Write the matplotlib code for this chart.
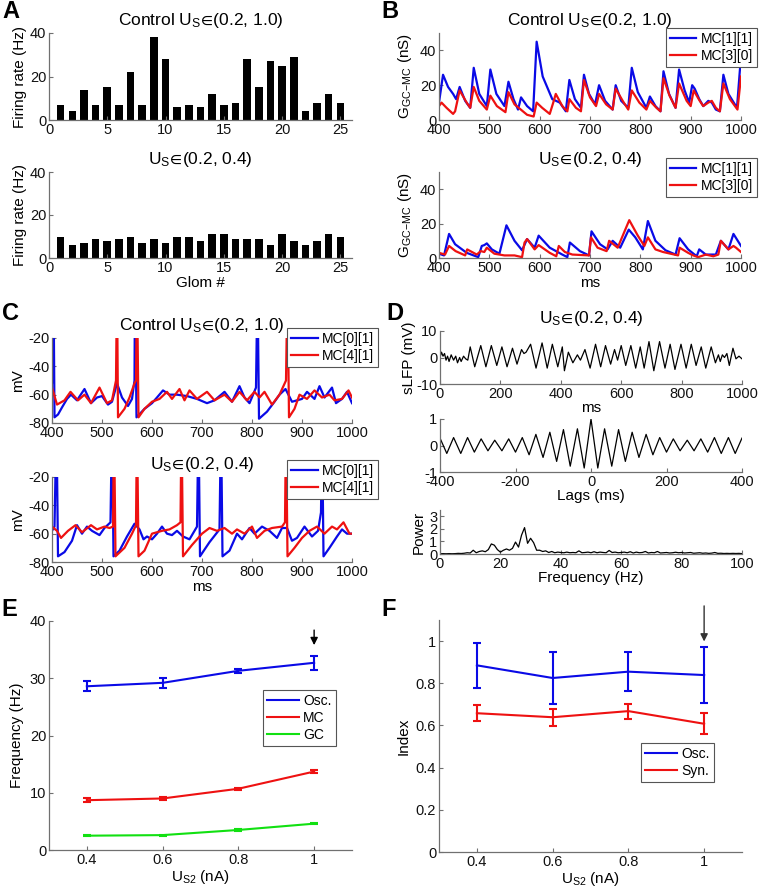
import matplotlib
matplotlib.use("Agg")
import matplotlib.pyplot as plt
import numpy as np

plt.rcParams['font.family'] = ['Liberation Sans', 'DejaVu Sans']
plt.rcParams['mathtext.fontset'] = 'custom'
plt.rcParams['mathtext.rm'] = 'Liberation Sans'
plt.rcParams['mathtext.it'] = 'Liberation Sans:italic'
plt.rcParams['mathtext.bf'] = 'Liberation Sans:bold'
plt.rcParams['mathtext.fallback'] = 'stixsans'
plt.rcParams['axes.unicode_minus'] = False

W, H = 759, 889
BLUE, RED, GREEN = "#0a0ae6", "#ee1111", "#11e011"
AX_COL = "#707070"

# ---------------------------------------------------------------- data
glom = np.arange(1, 26)
rate_ctrl = [7, 4, 14, 7, 15, 7, 22, 7, 38, 28, 6, 7, 6, 12, 7, 8, 28, 15, 27, 25, 29, 4, 8, 12, 8]
rate_low = [10, 6, 7, 9, 8, 9, 10, 7, 9, 7, 10, 10, 8, 11, 11, 9, 9, 9, 6, 11, 8, 6, 8, 11, 10]

# B: GC->MC conductance, control
gb1_t = [400, 408, 418, 428, 434, 441, 452, 462, 469, 480, 495, 502, 514, 530, 538, 548, 557, 563, 575, 587,
         594, 606, 625, 640, 652, 659, 670, 682, 688, 698, 710, 718, 730, 745, 751, 762, 776, 783, 795, 812,
         819, 830, 840, 846, 857, 870, 877, 888, 897, 903, 908, 917, 925, 935, 942, 950, 958, 965, 975, 992, 1000]
gb1_v = [10, 26, 19, 15, 12, 19, 11, 7, 30, 15, 8, 29, 15, 8, 22, 12, 6, 13, 8, 5,
         45, 25, 12, 10, 5, 23, 12, 7, 26, 15, 9, 20, 11, 6, 20, 11, 7, 30, 16, 7,
         13.5, 8, 5, 28, 15, 7, 29, 17, 10, 20, 18, 12, 8, 11, 10, 6, 5, 26, 15, 7, 37]
gr1_t = [400, 405, 415, 428, 432, 441, 455, 462, 469, 480, 495, 502, 515, 532, 538, 550, 575, 588, 594, 605,
         620, 627, 632, 645, 655, 659, 672, 682, 688, 700, 712, 718, 732, 745, 751, 765, 776, 783, 798, 812,
         819, 832, 840, 846, 858, 870, 877, 892, 900, 906, 918, 925, 935, 942, 950, 958, 965, 978, 993, 1000]
gr1_v = [8, 10, 7, 3.5, 5, 17, 10, 7, 19, 11, 6, 14, 8, 4.5, 16, 9, 3, 2, 10, 7,
         3.5, 10, 15, 8, 5, 12, 7, 5, 23, 13, 8, 15, 9, 6, 18, 11, 6, 17, 10, 6,
         11, 7, 5, 24, 14, 7, 21, 11, 8, 17, 11, 8, 10, 11, 7, 5, 21, 12, 6, 25]
# B: low U_S
gb2_t = [400, 410, 420, 432, 455, 478, 485, 490, 495, 505, 520, 534, 550, 565, 575, 590, 598, 620, 645, 655,
         660, 680, 698, 703, 720, 735, 745, 760, 777, 790, 805, 815, 830, 850, 870, 878, 895, 912, 917, 930,
         950, 960, 975, 985, 1000]
gb2_v = [2.5, 1.5, 14, 8, 3, 0.5, 7, 7.5, 8.5, 5, 2.5, 19, 10, 4.5, 11, 6, 13, 6, 2, 0.5,
         9, 4, 1.5, 15.5, 8, 5, 10, 6, 16.5, 12, 5, 21.5, 10, 4.5, 2, 11.5, 5, 1, 5, 2,
         2, 10, 5, 14, 7]
gr2_t = [400, 412, 420, 433, 452, 456, 475, 483, 490, 495, 510, 530, 550, 565, 570, 575, 590, 598, 620, 633,
         638, 650, 665, 698, 702, 715, 733, 738, 755, 778, 795, 808, 815, 830, 845, 875, 878, 895, 905, 915,
         930, 945, 955, 960, 975, 985, 990, 1000]
gr2_v = [3, 2, 7, 4, 1.5, 5, 2, 4, 3.5, 6, 2.5, 1.5, 1.5, 0.5, 9, 11, 5, 7.5, 3, 1,
         7, 3.5, 2, 1.5, 12, 6, 4, 10, 6, 22, 13, 7, 12, 5, 3.5, 1.5, 6, 3, 1.5, 0.5,
         2, 1, 2, 10, 5, 7, 6, 3.5]

# C: membrane potentials, control
vb1_t = [400, 402, 403, 405, 412, 420, 430, 438, 450, 465, 478, 490, 500, 512, 520, 530, 540, 552, 560, 565,
         566, 569, 585, 600, 610, 622, 635, 650, 670, 690, 710, 725, 745, 760, 775, 785, 795, 808, 811, 814,
         830, 845, 855, 867, 880, 900, 910, 925, 935, 945, 960, 968, 980, 990, 1000]
vb1_v = [-52, -45, 20, -76, -74, -69, -63, -60, -64, -56, -66, -62, -61, -67, -65, -52, -62, -68, -63, -50,
         20, -76, -70, -66, -62, -57, -60, -60, -61, -63, -66, -64, -58, -65, -54, -62, -66, -55, 20, -77,
         -72, -65, -60, -56, -65, -63, -58, -63, -54, -62, -55, -66, -63, -58, -66]
vr1_t = [400, 410, 425, 437, 452, 465, 478, 495, 510, 520, 528, 530, 532, 545, 555, 565, 568, 570, 573, 585,
         600, 615, 630, 640, 655, 665, 675, 690, 710, 725, 745, 760, 775, 790, 805, 815, 825, 840, 855, 868,
         871, 874, 885, 895, 910, 925, 940, 955, 965, 980, 993, 1000]
vr1_v = [-55, -67, -64, -58, -64, -60, -66, -55, -66, -64, -50, 20, -76, -70, -62, -52, -50, 20, -76, -70,
         -65, -63, -58, -63, -56, -64, -57, -63, -58, -64, -60, -65, -58, -64, -58, -62, -58, -67, -60, -50,
         20, -76, -70, -60, -63, -57, -62, -60, -64, -63, -57, -62]
# C: low U_S
vb2_t = [400, 405, 409, 412, 425, 440, 450, 460, 470, 480, 495, 505, 517, 520, 523, 535, 550, 565, 575, 583,
         590, 600, 610, 620, 630, 640, 650, 662, 675, 690, 693, 696, 715, 735, 738, 741, 755, 770, 780, 795,
         805, 820, 835, 850, 860, 870, 880, 890, 905, 920, 932, 938, 940, 943, 955, 970, 980, 990, 1000]
vb2_v = [-58, -55, 20, -76, -73, -65, -54, -60, -55, -58, -61, -56, -52, 20, -76, -72, -62, -53, -57, -64,
         -62, -64, -60, -55, -60, -61, -58, -62, -64, -55, 20, -76, -66, -57, 20, -76, -72, -60, -64, -56,
         -60, -55, -58, -63, -56, -56, -65, -63, -55, -62, -58, -45, 20, -76, -70, -62, -57, -60, -60]
vr2_t = [400, 410, 418, 432, 447, 460, 478, 490, 505, 515, 522, 524, 527, 545, 560, 568, 570, 573, 585, 600,
         620, 635, 650, 657, 659, 662, 680, 700, 715, 730, 745, 760, 770, 785, 800, 810, 825, 840, 860, 866,
         868, 871, 885, 900, 915, 930, 945, 960, 970, 983, 995, 1000]
vr2_v = [-55, -58, -63, -58, -54, -59, -54, -57, -55, -56, -55, 20, -76, -70, -60, -54, 20, -76, -72, -60,
         -58, -57, -54, -52, 20, -76, -68, -60, -56, -58, -56, -60, -57, -60, -55, -63, -58, -56, -55, -52,
         20, -76, -70, -63, -58, -55, -60, -55, -57, -52, -60, -60]

# D: sLFP, autocorrelation, power
lfp_t = [0, 5, 10, 15, 20, 25, 30, 37, 45, 52, 58, 65, 70, 78, 85, 92, 100, 115, 135, 152,
         170, 188, 205, 222, 240, 255, 270, 278, 285, 300, 318, 338, 355, 372, 390, 405, 412, 425, 440, 455,
         465, 480, 497, 515, 532, 548, 565, 578, 588, 600, 615, 632, 648, 663, 676, 692, 708, 727, 745, 762,
         778, 798, 815, 832, 848, 865, 880, 898, 912, 922, 928, 935, 942, 950, 958, 970, 980, 990, 1000]
lfp_v = [0, 2, 0.5, 1.5, -1, 0.5, -1.5, 1, -1, 0.5, -2, 0, -1.5, 0.5, -0.5, -1, 4, -3.5, 4.5, -3.5,
         4.5, -3, 4, -3.5, 3.5, -2.5, 3, 1.5, 2, 5, -4, 5.5, -4, 5, -3.5, 4, -5, 2, -2, 1,
         -1, 3, -4, 5, -3.5, 4.5, -2.5, 3, -1, 4.5, -3, 4.5, -4, 4, -4, 6, -5, 6, -4, 5,
         -4.5, 5, -4, 5, -3, 4, -4, 4, -2, 1, -1.5, 1, 0, 1.5, -3, 3.5, -0.5, 0.5, -0.5]
lags = [-400, -382, -364, -345, -327, -309, -291, -273, -255, -236, -218, -200, -182, -164, -146, -127,
        -109, -91, -73, -55, -36, -18, 0, 18, 36, 55, 73, 91, 109, 127, 146, 164, 182, 200, 218, 236,
        255, 273, 291, 309, 327, 345, 364, 382, 400]
acorr = [0.28, -0.3, 0.3, -0.3, 0.3, -0.25, 0.25, -0.2, 0.2, -0.2, 0.25, -0.25, 0.3, -0.35, 0.42, -0.45,
         0.5, -0.6, 0.6, -0.78, 0.63, -0.85, 1.0, -0.85, 0.63, -0.78, 0.6, -0.6, 0.5, -0.45, 0.42, -0.35,
         0.3, -0.25, 0.25, -0.2, 0.2, -0.2, 0.25, -0.25, 0.3, -0.3, 0.3, -0.3, 0.28]
freq = np.arange(0, 101)
power = [0.02, 0.03, 0.02, 0.03, 0.02, 0.03, 0.05, 0.04, 0.06, 0.1, 0.08, 0.3, 0.1, 0.2, 0.25, 0.18, 0.35,
         0.8, 0.7, 0.35, 0.15, 0.3, 0.4, 0.3, 0.45, 0.95, 0.55, 1.5, 2.1, 0.85, 1.25, 0.9, 0.3, 0.3, 0.2,
         0.25, 0.12, 0.2, 0.1, 0.15, 0.12, 0.1, 0.15, 0.1, 0.12, 0.1, 0.25, 0.1, 0.12, 0.15, 0.1, 0.18, 0.1,
         0.15, 0.12, 0.1, 0.28, 0.12, 0.15, 0.1, 0.12, 0.15, 0.1, 0.18, 0.08, 0.15, 0.1, 0.12, 0.2, 0.08,
         0.12, 0.1, 0.2, 0.08, 0.1, 0.12, 0.08, 0.1, 0.14, 0.1, 0.12, 0.08, 0.1, 0.12, 0.06, 0.08, 0.1,
         0.06, 0.08, 0.05, 0.07, 0.12, 0.05, 0.06, 0.04, 0.05, 0.04, 0.05, 0.04, 0.05, 0.03]

# E / F: summary vs U_S2
us2 = [0.4, 0.6, 0.8, 1.0]
osc_f = [28.6, 29.2, 31.3, 32.7]
osc_f_err = [0.9, 0.85, 0.35, 1.2]
mc_f = [8.7, 9.0, 10.7, 13.7]
mc_f_err = [0.3, 0.25, 0.2, 0.25]
gc_f = [2.5, 2.6, 3.5, 4.6]
gc_f_err = [0.1, 0.1, 0.1, 0.12]
osc_idx = [0.885, 0.825, 0.855, 0.839]
osc_idx_err = [0.108, 0.122, 0.092, 0.134]
syn_idx = [0.658, 0.639, 0.668, 0.608]
syn_idx_err = [0.037, 0.041, 0.036, 0.049]


# ---------------------------------------------------------------- helpers
def px_axes(fig, l, t, r, b):
    return fig.add_axes([l / W, 1 - b / H, (r - l) / W, (b - t) / H])


def style(ax):
    for s in ("top", "right"):
        ax.spines[s].set_visible(False)
    for s in ("left", "bottom"):
        ax.spines[s].set_color(AX_COL)
        ax.spines[s].set_linewidth(0.9)
    ax.tick_params(direction="in", length=3, width=0.8, color=AX_COL,
                   labelsize=10.5, pad=2, labelcolor="#111111")


def legend_at(ax, handles_labels, x, y, loc="upper left", hl=2.3, fs=10):
    # (x, y) is the legend corner named by loc, in figure pixels from top-left
    h, l = handles_labels
    leg = ax.legend(h, l, loc=loc, bbox_to_anchor=(x / W, 1 - y / H),
                    bbox_transform=ax.figure.transFigure, borderaxespad=0,
                    fontsize=fs, frameon=True, fancybox=False, framealpha=1,
                    edgecolor="#555555", handlelength=hl, handletextpad=0.3,
                    borderpad=0.3, labelspacing=0.2)
    leg.get_frame().set_linewidth(0.8)
    leg.set_zorder(10)
    return leg


def letter(fig, x, y, s):
    fig.text(x / W, 1 - y / H, s, fontsize=17, fontweight="bold", ha="left", va="center")


fig = plt.figure(figsize=(W / 100, H / 100), dpi=100)

title_ctrl = r"Control U$_\mathrm{S}\!\in\!$(0.2, 1.0)"
title_low = r"U$_\mathrm{S}\!\in\!$(0.2, 0.4)"
glabel = r"G$_\mathrm{GC\!-\!MC}$ (nS)"
TPAD = 6

# ---- A
for (t, b), rates, ttl in [((33, 120), rate_ctrl, title_ctrl), ((172, 258), rate_low, title_low)]:
    ax = px_axes(fig, 49, t, 352, b)
    ax.bar(glom, rates, width=0.65, color="black")
    ax.set_xlim(0, 26)
    ax.set_ylim(0, 40)
    ax.set_xticks([0, 5, 10, 15, 20, 25])
    ax.set_yticks([0, 20, 40])
    ax.set_ylabel("Firing rate (Hz)", fontsize=11, labelpad=2)
    ax.set_title(ttl, fontsize=12.5, pad=TPAD)
    style(ax)
ax.set_xlabel("Glom #", fontsize=11, labelpad=1)

# ---- B
for (t, b), series, ttl, ly in [((33, 120), (gb1_t, gb1_v, gr1_t, gr1_v), title_ctrl, 28),
                                ((172, 258), (gb2_t, gb2_v, gr2_t, gr2_v), title_low, 158)]:
    ax = px_axes(fig, 439, t, 741, b)
    l1, = ax.plot(series[0], series[1], color=BLUE, lw=1.6)
    l2, = ax.plot(series[2], series[3], color=RED, lw=1.6)
    ax.set_xlim(400, 1000)
    ax.set_ylim(0, 50)
    ax.set_xticks(range(400, 1001, 100))
    ax.set_yticks([0, 20, 40])
    ax.set_ylabel(glabel, fontsize=11, labelpad=4)
    ax.set_title(ttl, fontsize=12.5, pad=TPAD)
    style(ax)
    legend_at(ax, ([l1, l2], ["MC[1][1]", "MC[3][0]"]), 757, ly, loc="upper right", hl=1.9)
ax.set_xlabel("ms", fontsize=11, labelpad=1)

# ---- C
for (t, b), series, ttl, ly in [((338, 423), (vb1_t, vb1_v, vr1_t, vr1_v), title_ctrl, 328),
                                ((477, 562), (vb2_t, vb2_v, vr2_t, vr2_v), title_low, 460)]:
    ax = px_axes(fig, 52, t, 352, b)
    l1, = ax.plot(series[0], series[1], color=BLUE, lw=1.6)
    l2, = ax.plot(series[2], series[3], color=RED, lw=1.6)
    ax.set_xlim(400, 1000)
    ax.set_ylim(-80, -20)
    ax.set_xticks(range(400, 1001, 100))
    ax.set_yticks([-80, -60, -40, -20])
    ax.set_ylabel("mV", fontsize=11, labelpad=2)
    ax.set_title(ttl, fontsize=12.5, pad=TPAD)
    style(ax)
    legend_at(ax, ([l1, l2], ["MC[0][1]", "MC[4][1]"]), 378, ly, loc="upper right", hl=1.9)
ax.set_xlabel("ms", fontsize=11, labelpad=1)

# ---- D
ax = px_axes(fig, 440, 331, 742, 384)
ax.plot(lfp_t, lfp_v, color="black", lw=0.9)
ax.set_xlim(0, 1000)
ax.set_ylim(-10, 10)
ax.set_xticks(range(0, 1001, 200))
ax.set_yticks([-10, 0, 10])
ax.set_ylabel("sLFP (mV)", fontsize=11, labelpad=0)
ax.set_xlabel("ms", fontsize=11, labelpad=0)
ax.set_title(title_low, fontsize=12.5, pad=TPAD)
style(ax)

ax = px_axes(fig, 440, 419, 742, 472)
ax.plot(lags, acorr, color="black", lw=0.9)
ax.set_xlim(-400, 400)
ax.set_ylim(-1, 1)
ax.set_xticks(range(-400, 401, 200))
ax.set_yticks([-1, 0, 1])
ax.set_xlabel("Lags (ms)", fontsize=11, labelpad=0)
style(ax)

ax = px_axes(fig, 440, 510, 742, 554)
ax.plot(freq, power, color="black", lw=0.9)
ax.set_xlim(0, 100)
ax.set_ylim(0, 3.5)
ax.set_xticks(range(0, 101, 20))
ax.set_yticks([0, 1, 2, 3])
ax.set_ylabel("Power", fontsize=11, labelpad=2)
ax.set_xlabel("Frequency (Hz)", fontsize=11, labelpad=0)
style(ax)

# ---- E
ax = px_axes(fig, 49, 621, 352, 850)
hs = []
for y, e, c in [(osc_f, osc_f_err, BLUE), (mc_f, mc_f_err, RED), (gc_f, gc_f_err, GREEN)]:
    eb = ax.errorbar(us2, y, yerr=e, color=c, lw=1.5, elinewidth=1.5, capsize=3, capthick=1.5)
    hs.append(eb.lines[0])
ax.set_xlim(0.3, 1.1)
ax.set_ylim(0, 40)
ax.set_xticks(us2)
ax.set_xticklabels(["0.4", "0.6", "0.8", "1"])
ax.set_yticks(range(0, 41, 10))
ax.set_ylabel("Frequency (Hz)", fontsize=11, labelpad=4)
ax.set_xlabel(r"U$_\mathrm{S2}$ (nA)", fontsize=11, labelpad=1)
ax.annotate("", xy=(1.0, 35.3), xytext=(1.0, 38.9),
            arrowprops=dict(arrowstyle="-|>", color="black", lw=1.0, mutation_scale=11))
style(ax)
legend_at(ax, (hs, ["Osc.", "MC", "GC"]), 263, 690)

# ---- F
ax = px_axes(fig, 439, 620, 742, 852)
hs = []
for y, e, c in [(osc_idx, osc_idx_err, BLUE), (syn_idx, syn_idx_err, RED)]:
    eb = ax.errorbar(us2, y, yerr=e, color=c, lw=1.5, elinewidth=1.5, capsize=3, capthick=1.5)
    hs.append(eb.lines[0])
ax.set_xlim(0.3, 1.1)
ax.set_ylim(0, 1.1)
ax.set_xticks(us2)
ax.set_xticklabels(["0.4", "0.6", "0.8", "1"])
ax.set_yticks([0, 0.2, 0.4, 0.6, 0.8, 1.0])
ax.set_yticklabels(["0", "0.2", "0.4", "0.6", "0.8", "1"])
ax.set_ylabel("Index", fontsize=11, labelpad=4)
ax.set_xlabel(r"U$_\mathrm{S2}$ (nA)", fontsize=11, labelpad=1)
ax.annotate("", xy=(1.0, 0.985), xytext=(1.0, 1.18), annotation_clip=False,
            arrowprops=dict(arrowstyle="-|>", color="#333333", lw=1.0, mutation_scale=11))
style(ax)
legend_at(ax, (hs, ["Osc.", "Syn."]), 641, 743)

for x, y, s in [(2, 11, "A"), (381, 11, "B"), (2, 313, "C"), (386, 313, "D"), (1, 610, "E"), (381, 610, "F")]:
    letter(fig, x, y, s)

fig.savefig("out.png", dpi=100)
